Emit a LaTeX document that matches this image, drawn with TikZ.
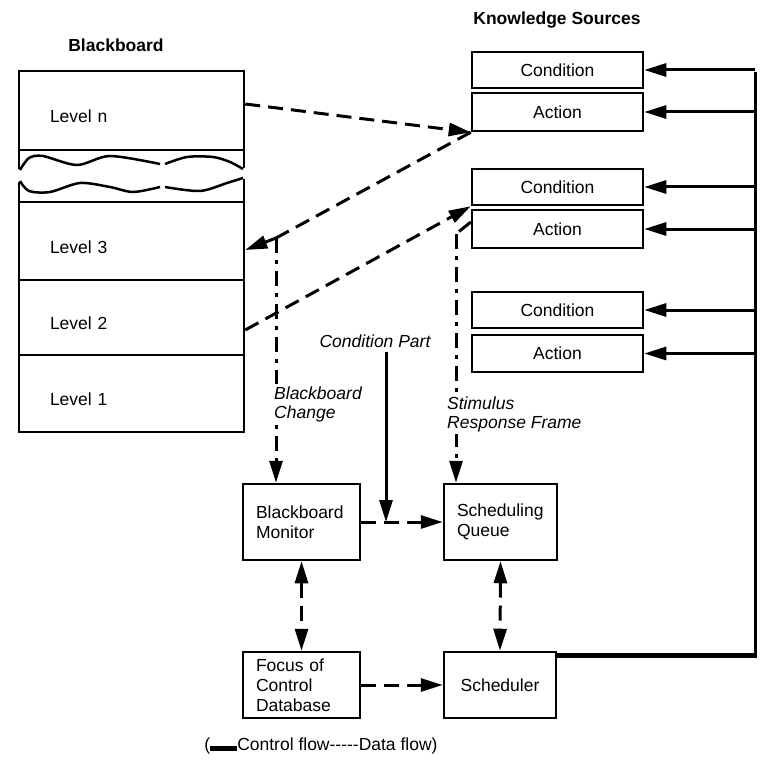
\documentclass[tikz,border=0pt]{standalone}
\usepackage{fontspec}
\setmainfont{Liberation Sans}
\usetikzlibrary{positioning, arrows.meta}

\begin{document}
\begin{tikzpicture}[x=1pt, y=-1pt,
    font=\fontsize{17.5}{20}\selectfont,
    box/.style={draw, line width=2.5pt, minimum width=171pt, inner sep=0pt},
    lvl/.style={draw, line width=2.5pt, minimum width=225pt, text width=163pt, inner xsep=31pt, align=left, text height=24.5pt, text depth=0pt},
    blk/.style={draw, line width=2.5pt, minimum height=76pt, text width=91pt, inner xsep=13pt, align=left},
    lab/.style={font=\fontsize{17.5}{19}\selectfont\itshape, align=left, fill=white, inner sep=2pt},
    ttl/.style={font=\fontsize{17.5}{20}\selectfont\bfseries},
    tip/.style={-{Triangle[length=22pt, width=13pt]}},
    both/.style={{Triangle[length=22pt, width=13pt]}-{Triangle[length=22pt, width=13pt]}},
    ctrl/.style={line width=3pt, tip},
    data/.style={line width=3pt, dash pattern=on 15pt off 8pt},
    datav/.style={line width=3pt, dash pattern=on 15pt off 7pt on 4pt off 7pt}
]
    \useasboundingbox (0,0) rectangle (773,762);

    % blackboard levels
    \node[ttl] (bbtitle) at (116,45) {Blackboard};
    \node[lvl, minimum height=79pt] (lvn) at (131.5,110.5) {Level n};
    \node[lvl, minimum height=78pt] (lv3) at (131.5,241) {Level 3};
    \node[lvl, minimum height=75pt] (lv2) at (131.5,317.5) {Level 2};
    \node[lvl, minimum height=77pt] (lv1) at (131.5,393.5) {Level 1};

    % the break between level n and level 3
    \draw[line width=2.5pt] (19,151) -- (19,169) (19,182) -- (19,202);
    \draw[line width=2.5pt] (244,151) -- (244,168) (244,179) -- (244,202);
    \draw[line width=2.5pt] plot[smooth] coordinates {(20,170) (29,158) (43,156) (77,165) (110,156) (160,164)};
    \draw[line width=2.5pt] plot[smooth] coordinates {(165,164) (187,157) (213,157) (230,162) (243,169)};
    \draw[line width=2.5pt] plot[smooth] coordinates {(20,181) (29,191) (50,192) (80,183) (110,187) (133,192) (160,187)};
    \draw[line width=2.5pt] plot[smooth] coordinates {(165,187) (200,191) (227,183) (243,178)};

    % knowledge sources
    \node[ttl] (kstitle) at (557,20) {Knowledge Sources};
    \node[box, minimum height=36pt] (cond1) at (557.5,70) {Condition};
    \node[box, minimum height=38pt] (act1) at (557.5,112) {Action};
    \node[box, minimum height=36pt] (cond2) at (557.5,187) {Condition};
    \node[box, minimum height=38pt] (act2) at (557.5,229) {Action};
    \node[box, minimum height=36pt] (cond3) at (557.5,310) {Condition};
    \node[box, minimum height=37pt] (act3) at (557.5,353.5) {Action};

    % control components
    \node[blk] (bbm) at (301.5,522) {Blackboard\\Monitor};
    \node[blk, text width=87pt] (sq) at (500.5,522) {Scheduling\\Queue};
    \node[blk, minimum height=66pt] (foc) at (301.5,685) {Focus of\\Control\\Database};
    \node[blk, text width=86pt, minimum height=66pt, align=center] (sch) at (500,685) {Scheduler};

    \coordinate (bbc) at (276,238);
    \coordinate (srf) at (456,234);
    \coordinate (cp) at (386,352);
    \coordinate (bus) at (755,72);
    \coordinate (busend) at (755,655);

    % data flow
    \draw[data, tip] ([yshift=6.5pt]lvn.east) -- (act1.south west);
    \draw[data] (act1.south west) -- (bbc);
    \draw[data, tip] (bbc) -- ([yshift=-9pt]lv3.east);
    \draw[datav, tip] (bbc) -- (bbc |- bbm.north);
    \draw[data, tip] ([yshift=-12.5pt]lv2.east) -- (cond2.south west);
    \draw[data] ([yshift=7pt]act2.west) -- (srf);
    \draw[datav, tip] (srf) -- (srf |- sq.north);
    \draw[line width=3pt, tip] (cp) -- (cp |- bbm.east);
    \draw[data, tip] (bbm.east) -- (sq.west);
    \draw[data, both] (bbm.south) -- (foc.north);
    \draw[data, both] (sq.south) -- (sch.north);
    \draw[data, tip] (foc.east) -- (sch.west);

    % labels
    \node[lab, anchor=west] (bbclbl) at (272,404) {Blackboard\\Change};
    \node[lab, anchor=west] (srflbl) at (445,414) {Stimulus\\Response Frame};
    \node[lab] (cplbl) at (375,341) {Condition Part};

    % control flow
    \draw[line width=5pt] (sch.east |- busend) -- ([xshift=1.5pt]busend);
    \draw[line width=3pt] (busend) -- (bus);
    \foreach \k in {cond1, act1, cond2, act2, cond3, act3}
        \draw[ctrl] (bus |- \k.east) -- (\k.east);

    \node (legend) at (321,746) {(\rule{27pt}{4.5pt}Control flow-{}-{}-{}-{}-Data flow)};
\end{tikzpicture}
\end{document}
